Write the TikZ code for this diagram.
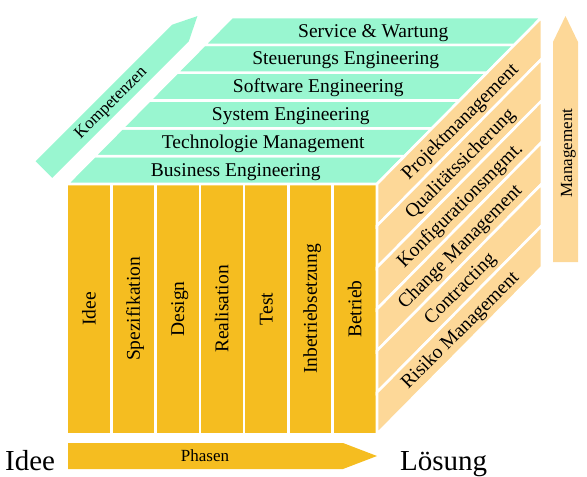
\documentclass[tikz,border=0pt]{standalone}
\usepackage{fontspec}
\setmainfont{Liberation Serif}
\definecolor{phasegold}{RGB}{245,189,32}
\definecolor{mgmtpeach}{RGB}{253,216,152}
\definecolor{compmint}{RGB}{153,246,208}
\begin{document}
\begin{tikzpicture}[x=1pt,y=-1pt,
  piece/.style={draw=white,line width=2.6pt,line join=miter},
  lbl/.style={inner sep=0pt,font=\fontsize{19.5}{22}\selectfont},
  small/.style={inner sep=0pt,font=\fontsize{17}{20}\selectfont},
  big/.style={inner sep=0pt,font=\fontsize{29}{32}\selectfont}]
\useasboundingbox (0,0) rectangle (587,477);

% front face: the seven phases
\foreach \lab [count=\i from 0] in {Idee,Spezifikation,Design,Realisation,Test,Inbetriebsetzung,Betrieb}{
  \pgfmathsetmacro\xa{67+\i*44.2857}
  \filldraw[piece,fill=phasegold] (\xa,184) rectangle ++(44.2857,250);
  \node[lbl,rotate=90,anchor=base] (phase\i) at (\xa+22.14+6.4,309) {\lab};
}

% top face: competence layers
\foreach \lab [count=\k from 0] in {Business Engineering,Technologie Management,System Engineering,Software Engineering,Steuerungs Engineering,Service \& Wartung}{
  \pgfmathsetmacro\yb{184-\k*27.833}
  \pgfmathsetmacro\xl{67+\k*27.5}
  \filldraw[piece,fill=compmint] (\xl,\yb) -- ++(310,0) -- ++(27.5,-27.833) -- ++(-310,0) -- cycle;
  \node[lbl,anchor=base] (comp\k) at (\xl+168.75,\yb-13.9+6.2) {\lab};
}

% right face: management disciplines
\foreach \lab [count=\k from 0] in {Projektmanagement,Qualitätssicherung,Konfigurationsmgmt.,Change Management,Contracting,Risiko Management}{
  \pgfmathsetmacro\yf{184+\k*41.667}
  \filldraw[piece,fill=mgmtpeach] (377,\yf) -- ++(165,-167) -- ++(0,41.667) -- ++(-165,167) -- cycle;
  \node[lbl,rotate=45,anchor=base] (mgmt\k) at (459.5+4.5,\yf+20.83-83.5+4.5) {\lab};
}

% axis arrows
\fill[compmint] (35.7,161.2) -- (52.3,177.8) -- (188.8,41.3) -- (197.4,16.1) -- (172.2,24.7) -- cycle;
\node[small,rotate=45,anchor=base] (kompetenzen) at (114.1,106.1) {Kompetenzen};

\fill[mgmtpeach] (553,262) -- (578,262) -- (578,42) -- (565.5,16) -- (553,42) -- cycle;
\node[small,rotate=90,anchor=base] (management) at (572,153) {Management};

\fill[phasegold] (68,443) -- (343,443) -- (377,456) -- (343,469) -- (68,469) -- cycle;
\node[small,anchor=base] (phasen) at (205,461) {Phasen};

\node[big,anchor=base west] (start) at (5,470) {Idee};
\node[big,anchor=base west] (ziel) at (400,470) {Lösung};
\end{tikzpicture}
\end{document}
